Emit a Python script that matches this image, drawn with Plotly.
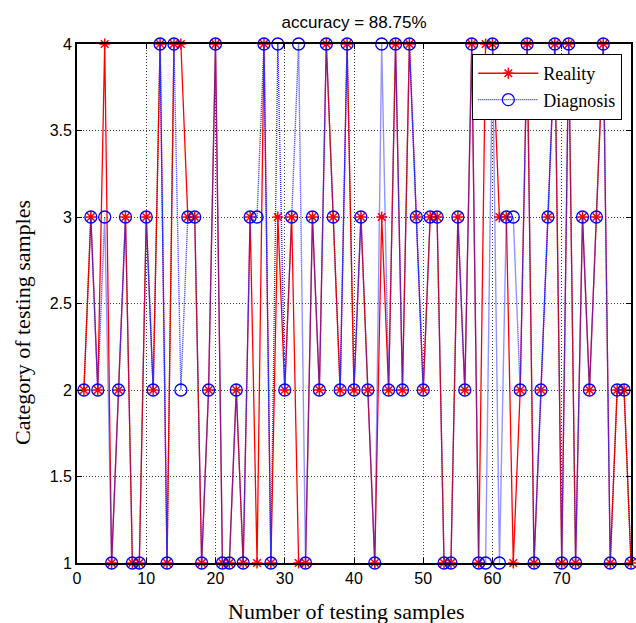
import plotly.graph_objects as go

samples = list(range(1, 81))
reality = [2, 3, 2, 4, 1, 2, 3, 1, 1, 3,
           2, 4, 1, 4, 4, 3, 3, 1, 2, 4,
           1, 1, 2, 1, 3, 1, 4, 1, 3, 2,
           3, 1, 1, 3, 2, 4, 3, 2, 4, 2,
           3, 2, 1, 3, 2, 4, 2, 4, 3, 2,
           3, 3, 1, 1, 3, 2, 4, 1, 4, 4,
           3, 3, 1, 2, 4, 1, 2, 3, 4, 1,
           4, 1, 3, 2, 3, 4, 1, 2, 2, 1]
diagnosis = [2, 3, 2, 3, 1, 2, 3, 1, 1, 3,
             2, 4, 1, 4, 2, 3, 3, 1, 2, 4,
             1, 1, 2, 1, 3, 3, 4, 1, 4, 2,
             3, 4, 1, 3, 2, 4, 3, 2, 4, 2,
             3, 2, 1, 4, 2, 4, 2, 4, 3, 2,
             3, 3, 1, 1, 3, 2, 4, 1, 1, 4,
             1, 3, 3, 2, 4, 1, 2, 3, 4, 1,
             4, 1, 3, 2, 3, 4, 1, 2, 2, 1]
accuracy_text = "accuracy = 88.75%"
x_title = "Number of testing samples"
y_title = "Category of testing samples"
x_ticks = [0, 10, 20, 30, 40, 50, 60, 70, 80]
y_ticks = [1, 1.5, 2, 2.5, 3, 3.5, 4]

SANS = "Liberation Sans, Arial"
SERIF = "Liberation Serif, Times New Roman"

fig = go.Figure()
fig.add_trace(go.Scatter(
    x=samples, y=reality, mode="lines+markers", name="Reality",
    line=dict(color="red", width=1.3),
    marker=dict(symbol="asterisk-open", size=9, color="red",
                line=dict(color="red", width=1.5)),
    cliponaxis=False,
))
fig.add_trace(go.Scatter(
    x=samples, y=diagnosis, mode="lines+markers", name="Diagnosis",
    line=dict(color="rgb(40,40,255)", width=1.4, dash="1px,1px"),
    marker=dict(symbol="circle-open", size=12, color="blue",
                line=dict(color="blue", width=1.3)),
    cliponaxis=False,
))

axis_common = dict(
    showline=True, linecolor="black", linewidth=1.8, mirror="ticks",
    ticks="inside", ticklen=5, tickcolor="black",
    showgrid=True, gridcolor="rgba(0,0,0,0.75)", griddash="1px,2px", gridwidth=1,
    zeroline=False, automargin=False,
    tickfont=dict(family=SANS, size=16, color="black"),
)

fig.update_layout(
    width=636, height=623,
    margin=dict(l=77, r=5, t=44, b=60, autoexpand=False),
    paper_bgcolor="white", plot_bgcolor="white",
    title=dict(text=accuracy_text, x=(77 + 631) / 2 / 636, xanchor="center",
               y=1 - 22 / 623, yanchor="middle",
               font=dict(family=SANS, size=17, color="black")),
    xaxis=dict(range=[0, 80], tickvals=x_ticks, **axis_common),
    yaxis=dict(range=[1, 4], tickvals=y_ticks, **axis_common),
    legend=dict(x=0.984, xanchor="right", y=0.981, yanchor="top",
                bgcolor="white", bordercolor="black", borderwidth=1.2,
                font=dict(family=SERIF, size=18, color="black"),
                itemwidth=60, tracegroupgap=0),
    showlegend=True,
    annotations=[
        dict(text=x_title, xref="paper", yref="paper", x=0.4847, y=-0.094,
             xanchor="center", yanchor="middle", showarrow=False,
             font=dict(family=SERIF, size=22, color="black")),
        dict(text=y_title, xref="paper", yref="paper", x=-0.0975, y=0.4644,
             xanchor="center", yanchor="middle", showarrow=False, textangle=-90,
             font=dict(family=SERIF, size=22, color="black")),
    ],
)

fig.write_html("out.html", config={"displayModeBar": False},
               post_script="document.body.style.margin='0px';")
